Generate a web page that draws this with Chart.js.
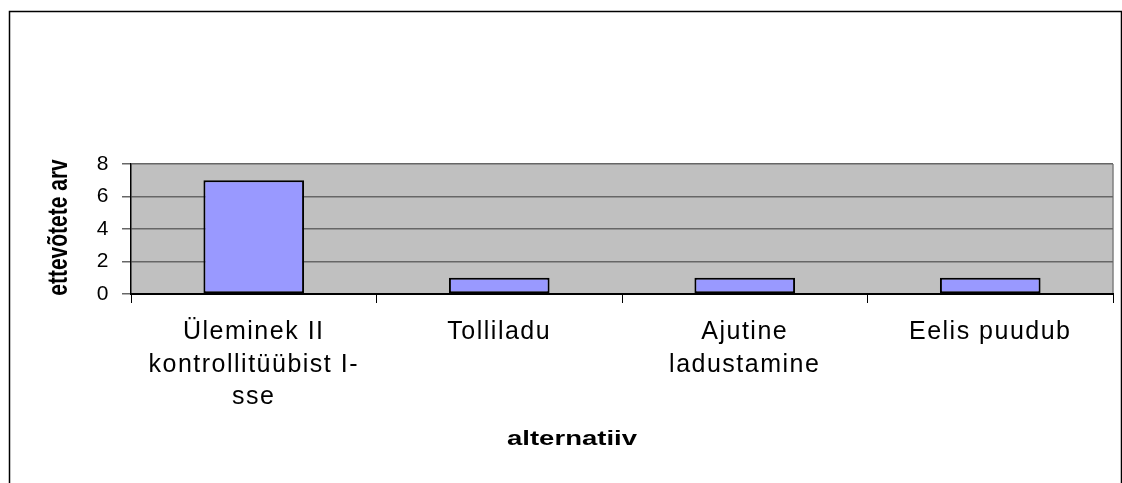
<!DOCTYPE html>
<html>
<head>
<meta charset="utf-8">
<script src="https://cdn.jsdelivr.net/npm/chart.js@4.4.1/dist/chart.umd.min.js"></script>
<style>
  html, body { margin: 0; padding: 0; background: #fff; }
  #wrap { width: 1122px; height: 483px; }
</style>
</head>
<body>
<div id="wrap"><canvas id="graafik"></canvas></div>
<script>
const kategooriad = [
  ["Üleminek II", "kontrollitüübist I-", "sse"],
  "Tolliladu",
  ["Ajutine", "ladustamine"],
  "Eelis puudub",
];
const ettevotted = [7, 1, 1, 1];
const yTicks = [0, 2, 4, 6, 8];
const xPealkiri = "alternatiiv";
const yPealkiri = "ettevõtete arv";

const fontFamily = '"Liberation Sans", Arial, sans-serif';

// plot background, outer frame and the two axis titles
const raam = {
  id: "raam",
  beforeDraw(chart) {
    const { ctx, chartArea: a } = chart;
    ctx.save();
    ctx.fillStyle = "#c0c0c0";
    ctx.fillRect(a.left, a.top, a.right - a.left, a.bottom - a.top);
    ctx.strokeStyle = "#808080";
    ctx.lineWidth = 1.5;
    ctx.beginPath();
    ctx.moveTo(a.right, a.top);
    ctx.lineTo(a.right, a.bottom);
    ctx.stroke();
    ctx.strokeStyle = "#000";
    ctx.lineWidth = 1.5;
    ctx.beginPath();
    ctx.moveTo(9.5, 483);
    ctx.lineTo(9.5, 11.5);
    ctx.lineTo(1121.5, 11.5);
    ctx.lineTo(1121.5, 483);
    ctx.stroke();
    ctx.restore();
    ctx.letterSpacing = "1.5px";
  },
  afterDraw(chart) {
    const ctx = chart.ctx;
    ctx.save();
    ctx.letterSpacing = "0px";
    ctx.fillStyle = "#000";
    ctx.font = "bold 21px " + fontFamily;
    ctx.textAlign = "center";
    ctx.textBaseline = "alphabetic";

    ctx.save();
    ctx.translate(572, 445);
    ctx.scale(1.31, 1);
    ctx.fillText(xPealkiri, 0, 0);
    ctx.restore();

    ctx.save();
    ctx.translate(67, 227.5);
    ctx.rotate(-Math.PI / 2);
    ctx.scale(1, 1.3);
    ctx.fillText(yPealkiri, 0, 0);
    ctx.restore();

    ctx.restore();
  },
};

const ctx = document.getElementById("graafik").getContext("2d");

new Chart(ctx, {
  type: "bar",
  data: {
    labels: kategooriad,
    datasets: [
      {
        data: ettevotted,
        backgroundColor: "#9999ff",
        borderColor: "#000",
        borderWidth: 2,
        borderSkipped: false,
        barPercentage: 0.41,
        categoryPercentage: 1,
      },
    ],
  },
  options: {
    responsive: true,
    maintainAspectRatio: false,
    animation: false,
    layout: {
      padding: { left: 0, top: 164, right: 9, bottom: 0 },
    },
    plugins: {
      legend: { display: false },
      title: { display: false },
      tooltip: { enabled: false },
    },
    scales: {
      x: {
        afterFit(scale) {
          scale.height = 189;
        },
        grid: {
          display: true,
          drawOnChartArea: false,
          drawTicks: true,
          tickLength: 9,
          tickColor: "#000",
          offset: true,
        },
        border: { display: true, color: "#000", width: 2 },
        ticks: {
          color: "#000",
          font: { family: fontFamily, size: 25, lineHeight: 1.3 },
          padding: 13,
          maxRotation: 0,
          minRotation: 0,
          autoSkip: false,
        },
      },
      y: {
        min: yTicks[0],
        max: yTicks[yTicks.length - 1],
        afterBuildTicks(scale) {
          scale.ticks = yTicks.map((v) => ({ value: v }));
        },
        afterFit(scale) {
          scale.width = 131;
        },
        grid: {
          color: "#666666",
          lineWidth: 1.5,
          tickLength: 9,
          tickColor: "#666666",
        },
        border: { display: true, color: "#000", width: 1.5 },
        ticks: {
          color: "#000",
          font: { family: fontFamily, size: 21 },
          padding: 12,
        },
      },
    },
  },
  plugins: [raam],
});
</script>
</body>
</html>
